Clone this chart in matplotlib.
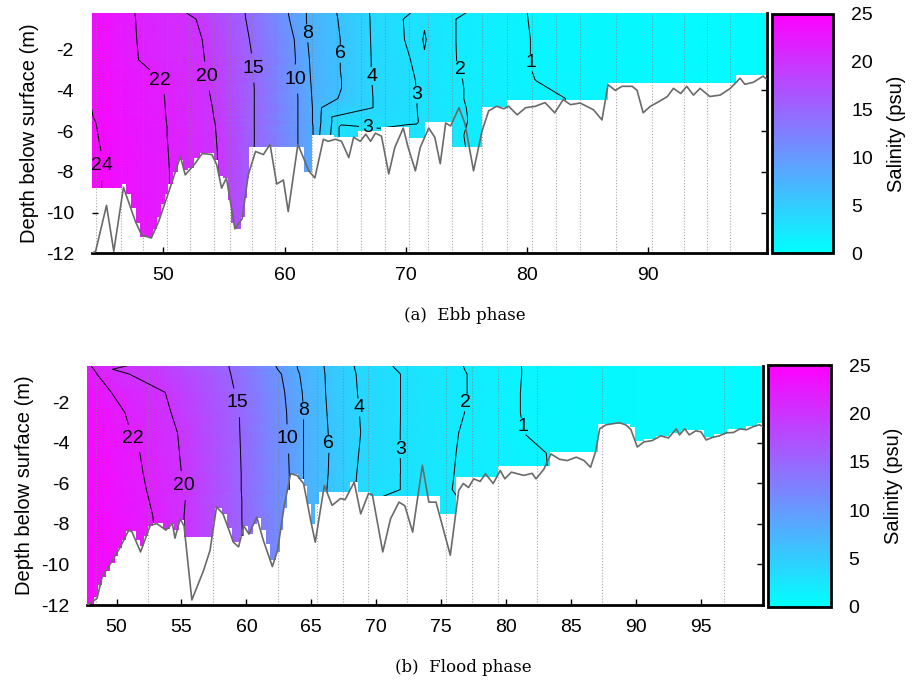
import numpy as np
import matplotlib
matplotlib.use("Agg")
import matplotlib.pyplot as plt
import matplotlib.tri as mtri
from matplotlib.colors import Normalize
from matplotlib.patches import Polygon

plt.rcParams['font.family'] = ['Liberation Sans', 'DejaVu Sans']
plt.rcParams['axes.unicode_minus'] = False

# ---------------- (a) ebb phase ----------------
ebb_levels = [1, 2, 3, 4, 6, 8, 10, 15, 20, 22, 24]
# salinity read along depth rows: x positions (distance) and salinity there
ebb_depths = [0.0, -0.5, -1.5, -2.5, -3.0, -3.5, -3.9, -4.4, -4.85, -5.3, -5.55,
              -5.8, -6.2, -7.0, -8.0, -10.0, -12.5]
ebb_knot_x = [
    [43, 43.9, 47.6, 51.4, 56.7, 60.25, 61.8, 64.25, 67.0, 70.8, 75.5, 80.0, 90, 101],
    [43, 43.85, 47.7, 52.7, 56.8, 60.4, 61.8, 64.4, 67.05, 69.8, 71.55, 74.15, 80.1, 90, 101],
    [43, 43.75, 47.8, 53.2, 57.1, 60.8, 61.9, 64.6, 67.1, 69.9, 71.3, 71.55, 71.8, 74.15, 80.3, 90, 101],
    [43, 43.65, 47.95, 53.4, 57.35, 60.9, 62.05, 64.6, 67.15, 70.4, 71.55, 74.2, 80.3, 90, 101],
    [43, 43.6, 48.9, 53.5, 57.4, 60.85, 62.1, 64.6, 67.15, 70.6, 74.5, 80.4, 90, 101],
    [43, 43.6, 49.7, 53.6, 57.45, 60.9, 62.15, 64.7, 67.2, 70.8, 74.7, 80.7, 90, 101],
    [43, 43.7, 50.0, 53.75, 57.5, 61.05, 62.2, 64.7, 67.25, 70.85, 74.8, 82.6, 90, 101],
    [43, 43.85, 50.1, 53.9, 57.5, 61.1, 62.25, 64.4, 67.3, 70.9, 74.8, 83.2, 90, 101],
    [43, 44.05, 50.15, 54.05, 57.5, 61.1, 62.3, 63.05, 67.3, 70.95, 75.0, 83.2, 90, 101],
    [43, 44.2, 50.2, 54.15, 57.5, 61.1, 62.3, 63.0, 63.9, 67.5, 71.0, 75.1, 83.2, 90, 101],
    [43, 44.4, 50.25, 54.25, 57.5, 61.1, 62.3, 63.0, 63.9, 64.6, 70.9, 71.05, 75.1, 83.2, 90, 101],
    [43, 44.5, 50.3, 54.3, 57.5, 61.1, 62.35, 62.95, 63.85, 64.5, 64.7, 70.9, 73.0, 75.0, 83.2, 90, 101],
    [43, 44.6, 50.3, 54.35, 57.5, 61.1, 62.35, 62.9, 63.8, 64.5, 68.0, 72.0, 74.8, 83.2, 90, 101],
    [43, 44.85, 50.4, 54.45, 57.5, 61.1, 62.4, 63.0, 64.0, 64.5, 70.0, 75.0, 83.2, 90, 101],
    [43, 44.9, 50.5, 54.5, 57.5, 61.1, 62.4, 63.0, 64.0, 64.5, 70.0, 75.0, 83.2, 90, 101],
    [43, 44.9, 50.5, 54.5, 57.5, 61.1, 62.4, 63.0, 64.0, 64.5, 70.0, 75.0, 83.2, 90, 101],
    [43, 44.9, 50.5, 54.5, 57.5, 61.1, 62.4, 63.0, 64.0, 64.5, 70.0, 75.0, 83.2, 90, 101],
]
ebb_knot_s = [
    [25, 24, 22, 20, 15, 10, 8, 6, 4, 3, 2, 1, 0.6, 0.3],
    [25, 24, 22, 20, 15, 10, 8, 6, 4, 3, 2.75, 2, 1, 0.6, 0.3],
    [25, 24, 22, 20, 15, 10, 8, 6, 4, 3, 2.85, 3.2, 2.85, 2, 1, 0.6, 0.3],
    [25, 24, 22, 20, 15, 10, 8, 6, 4, 3, 2.8, 2, 1, 0.6, 0.3],
    [25, 24, 22, 20, 15, 10, 8, 6, 4, 3, 2, 1, 0.6, 0.3],
    [25, 24, 22, 20, 15, 10, 8, 6, 4, 3, 2, 1, 0.6, 0.3],
    [25, 24, 22, 20, 15, 10, 8, 6, 4, 3, 2, 1, 0.6, 0.3],
    [25, 24, 22, 20, 15, 10, 8, 6, 4, 3, 2, 1, 0.6, 0.3],
    [25, 24, 22, 20, 15, 10, 8, 6, 4, 3, 2, 1, 0.6, 0.3],
    [25, 24, 22, 20, 15, 10, 8, 6, 4, 3.5, 3, 2, 1, 0.6, 0.3],
    [25, 24, 22, 20, 15, 10, 8, 6, 4, 3.15, 3.1, 3, 2, 1, 0.6, 0.3],
    [25, 24, 22, 20, 15, 10, 8, 6, 4, 3, 2.9, 2.85, 2.5, 2, 1, 0.6, 0.3],
    [25, 24, 22, 20, 15, 10, 8, 6, 4, 3, 2.7, 2.5, 2, 1, 0.6, 0.3],
    [25, 24, 22, 20, 15, 10, 8, 6, 4, 3, 2.6, 2, 1, 0.6, 0.3],
    [25, 24, 22, 20, 15, 10, 8, 6, 4, 3, 2.6, 2, 1, 0.6, 0.3],
    [25, 24, 22, 20, 15, 10, 8, 6, 4, 3, 2.6, 2, 1, 0.6, 0.3],
    [25, 24, 22, 20, 15, 10, 8, 6, 4, 3, 2.6, 2, 1, 0.6, 0.3],
]
# lower edge of the gridded salinity field (step starts, depth)
ebb_field_x = [44.1, 46.6, 46.9, 47.3, 47.7, 48.1, 49.1, 49.5, 49.8, 50.1, 50.4, 50.8,
               51.2, 51.6, 52.0, 52.5, 53.0, 54.2, 54.5, 54.9, 55.3, 55.6, 55.8, 56.4,
               56.7, 56.9, 57.05, 61.6, 62.3, 64.05, 66.1, 68.0, 70.24, 71.6, 73.8,
               76.3, 78.4, 86.7, 97.3]
ebb_field_z = [-8.8, -8.6, -9.1, -9.8, -10.5, -11.2, -10.8, -10.2, -9.6, -9.1, -8.6, -8.0,
               -7.4, -7.9, -7.8, -7.3, -7.05, -7.4, -8.2, -8.3, -9.4, -10.5, -10.8, -10.2,
               -9.3, -8.3, -6.76, -8.0, -6.2, -6.3, -6.0, -5.8, -6.35, -5.55, -6.8,
               -4.8, -4.45, -3.62, -3.23]
ebb_bed_x = [44.1, 44.4, 45.3, 45.9, 46.7, 47.7, 48.2, 49.0, 49.6, 50.4, 51.4, 51.8, 52.6,
             53.2, 54.0, 54.4, 54.8, 55.2, 55.9, 56.5, 57.0, 57.6, 58.25, 58.8, 59.35,
             59.9, 60.3, 61.1, 62.0, 62.5, 63.2, 63.6, 64.2, 64.7, 65.3, 65.7, 66.25,
             66.7, 67.1, 67.5, 68.0, 68.6, 69.1, 69.8, 70.2, 70.8, 71.2, 71.9, 72.4,
             72.85, 73.3, 73.7, 74.4, 74.9, 75.6, 76.3, 76.85, 77.5, 78.1, 78.5, 79.2,
             79.9, 80.7, 81.5, 82.3, 83.0, 83.6, 84.4, 85.5, 86.2, 86.7, 87.3, 87.85,
             88.7, 89.1, 89.6, 90.2, 90.9, 91.6, 92.1, 92.7, 93.2, 93.75, 94.3, 95.1,
             95.96, 96.8, 97.6, 98.0, 98.7, 99.5, 99.8]
ebb_bed_z = [-12.0, -11.9, -9.65, -11.9, -8.76, -10.46, -11.1, -11.25, -10.45, -9.05, -7.25,
             -8.15, -7.6, -7.1, -7.15, -7.65, -8.8, -8.3, -10.8, -10.3, -8.15, -7.0, -7.15,
             -6.65, -8.6, -8.4, -9.95, -6.65, -7.95, -8.3, -6.4, -6.5, -6.4, -6.5, -7.3,
             -6.3, -6.5, -6.15, -6.5, -6.1, -6.25, -8.1, -6.8, -5.85, -6.8, -7.95, -6.8,
             -5.85, -6.3, -7.6, -5.6, -5.75, -4.85, -5.65, -7.95, -6.0, -5.0, -4.78, -4.9,
             -4.78, -5.2, -4.85, -4.78, -4.6, -5.1, -4.45, -4.7, -4.62, -4.95, -5.45,
             -3.72, -4.0, -3.8, -3.8, -4.0, -5.1, -4.78, -4.55, -4.3, -3.9, -4.15, -3.8,
             -4.23, -3.9, -4.3, -4.23, -3.9, -3.4, -3.7, -3.6, -3.3, -3.45]
ebb_stations = [44.4, 46.5, 48.3, 50.3, 52.2, 54.2, 55.5, 57.3, 59.2, 62.3, 64.3, 66.3,
                68.3, 70.3, 71.8, 73.8, 76.3, 78.4, 80.4, 82.4, 84.4, 87.4, 90.3, 93.0,
                94.9, 96.8]
ebb_label_pos = [(44.9, -7.7), (49.7, -3.5), (53.55, -3.3), (57.4, -2.9), (60.8, -3.45),
                 (61.8, -1.2), (64.55, -2.2), (67.15, -3.3), (70.85, -4.2), (66.9, -5.6),
                 (74.45, -3.0), (80.3, -2.65)]

# ---------------- (b) flood phase ----------------
flood_levels = [1, 2, 3, 4, 6, 8, 10, 15, 20, 22]
flood_depths = [0.0, -0.36, -0.6, -1.5, -2.5, -3.5, -4.5, -5.5, -6.3, -6.8, -7.6, -9.0,
                -10.5, -12.5]
flood_knot_x = [
    [46, 47.8, 52.0, 58.6, 62.1, 63.85, 65.95, 68.25, 71.0, 76.6, 81.15, 90, 101],
    [46, 48.25, 49.7, 58.7, 62.4, 63.95, 66.0, 68.35, 71.5, 76.8, 81.2, 90, 101],
    [46, 48.5, 51.0, 58.8, 62.7, 64.1, 66.05, 68.45, 71.87, 77.0, 81.2, 90, 101],
    [46, 49.6, 53.75, 59.1, 62.95, 64.3, 66.1, 68.55, 71.87, 77.0, 81.1, 90, 101],
    [46, 50.65, 54.2, 59.45, 63.1, 64.4, 66.2, 68.7, 71.87, 76.8, 81.1, 90, 101],
    [46, 51.1, 54.7, 59.5, 63.15, 64.4, 66.3, 68.8, 71.85, 76.35, 81.35, 90, 101],
    [46, 51.8, 54.85, 59.55, 63.25, 64.4, 66.35, 68.65, 71.85, 76.15, 83.1, 90, 101],
    [46, 52.05, 55.0, 59.6, 63.3, 64.4, 66.3, 68.5, 71.87, 76.0, 83.2, 90, 101],
    [46, 52.3, 55.2, 59.6, 63.3, 64.4, 66.2, 68.4, 70.0, 71.87, 75.85, 83.2, 90, 101],
    [46, 52.5, 55.3, 59.65, 63.3, 64.4, 66.2, 68.3, 69.9, 72.0, 76.4, 83.2, 90, 101],
    [46, 52.8, 55.2, 59.65, 63.3, 64.4, 66.2, 68.3, 69.9, 72.0, 76.5, 83.2, 90, 101],
    [46, 53.0, 55.2, 59.7, 63.3, 64.4, 66.2, 68.3, 69.9, 72.0, 76.5, 83.2, 90, 101],
    [46, 53.0, 55.2, 59.7, 63.3, 64.4, 66.2, 68.3, 69.9, 72.0, 76.5, 83.2, 90, 101],
    [46, 53.0, 55.2, 59.7, 63.3, 64.4, 66.2, 68.3, 69.9, 72.0, 76.5, 83.2, 90, 101],
]
flood_knot_s = [
    [25, 22, 20, 15, 10, 8, 6, 4, 3, 2, 1, 0.6, 0.3],
    [25, 22, 20, 15, 10, 8, 6, 4, 3, 2, 1, 0.6, 0.3],
    [25, 22, 20, 15, 10, 8, 6, 4, 3, 2, 1, 0.6, 0.3],
    [25, 22, 20, 15, 10, 8, 6, 4, 3, 2, 1, 0.6, 0.3],
    [25, 22, 20, 15, 10, 8, 6, 4, 3, 2, 1, 0.6, 0.3],
    [25, 22, 20, 15, 10, 8, 6, 4, 3, 2, 1, 0.6, 0.3],
    [25, 22, 20, 15, 10, 8, 6, 4, 3, 2, 1, 0.6, 0.3],
    [25, 22, 20, 15, 10, 8, 6, 4, 3, 2, 1, 0.6, 0.3],
    [25, 22, 20, 15, 10, 8, 6, 4, 3.1, 3, 2, 1, 0.6, 0.3],
    [25, 22, 20, 15, 10, 8, 6, 4, 3, 2.7, 2, 1, 0.6, 0.3],
    [25, 22, 20, 15, 10, 8, 6, 4, 3, 2.7, 2, 1, 0.6, 0.3],
    [25, 22, 20, 15, 10, 8, 6, 4, 3, 2.7, 2, 1, 0.6, 0.3],
    [25, 22, 20, 15, 10, 8, 6, 4, 3, 2.7, 2, 1, 0.6, 0.3],
    [25, 22, 20, 15, 10, 8, 6, 4, 3, 2.7, 2, 1, 0.6, 0.3],
]
flood_field_x = [47.75, 48.3, 48.6, 48.85, 49.2, 49.5, 49.85, 50.15, 50.45, 50.75, 51.5,
                 51.8, 52.1, 52.4, 52.8, 53.6, 54.1, 54.45, 54.8, 55.2, 57.4, 57.6, 58.1,
                 58.5, 58.9, 59.5, 59.8, 60.1, 60.5, 60.8, 61.1, 61.5, 61.8, 62.3, 62.6,
                 62.85, 63.1, 63.35, 64.0, 64.4, 64.7, 65.0, 65.3, 65.6, 68.0, 68.6, 69.5,
                 74.9, 76.1, 79.4, 83.4, 87.1, 89.5, 89.9, 90.6, 91.5, 92.5, 93.5, 95.2,
                 96.0, 97.0, 98.5, 99.3]
flood_field_z = [-12.0, -11.6, -11.0, -10.6, -10.3, -9.95, -9.6, -9.2, -8.8, -8.35, -8.8,
                 -9.1, -8.6, -8.1, -7.95, -8.25, -8.0, -8.3, -7.8, -8.64, -7.9, -7.2, -7.5,
                 -8.2, -8.9, -8.6, -8.1, -8.5, -8.0, -7.7, -8.3, -9.0, -9.8, -9.4, -8.3,
                 -7.2, -6.3, -5.55, -5.8, -6.1, -7.0, -8.0, -7.0, -6.4, -5.95, -6.4, -6.6,
                 -7.5, -5.7, -5.15, -4.45, -3.06, -3.2, -3.9, -3.8, -3.65, -3.5, -3.35, -3.7,
                 -3.55, -3.3, -3.15, -3.0]
flood_bed_x = [47.75, 48.0, 48.5, 48.9, 49.54, 50.3, 50.95, 51.2, 51.85, 52.6, 53.1, 53.8,
               54.3, 54.5, 54.9, 55.2, 55.8, 56.7, 57.2, 57.7, 58.2, 59.0, 59.4, 59.8,
               60.2, 60.8, 61.3, 62.0, 62.4, 62.9, 63.4, 63.9, 64.4, 64.95, 65.3, 66.0,
               66.6, 67.25, 67.6, 68.3, 68.8, 69.4, 69.7, 70.5, 71.1, 71.75, 72.2, 72.8,
               73.55, 74.05, 74.6, 75.7, 76.35, 76.7, 77.1, 77.5, 78.0, 78.4, 79.0, 79.55,
               79.9, 80.4, 81.35, 82.0, 82.3, 82.9, 83.45, 84.1, 84.7, 85.4, 86.0, 86.5,
               86.9, 87.2, 87.7, 88.7, 89.2, 89.6, 90.1, 90.6, 91.25, 91.9, 92.5, 93.1,
               93.35, 93.75, 94.1, 94.6, 95.0, 95.4, 95.9, 96.4, 96.95, 97.5, 98.0, 98.5,
               99.0, 99.5, 99.8]
flood_bed_z = [-12.0, -11.9, -11.67, -10.6, -9.95, -9.13, -8.3, -8.4, -9.38, -8.06, -7.98,
               -8.3, -7.98, -8.7, -7.74, -8.1, -11.75, -10.3, -9.3, -7.16, -7.5, -8.9, -9.13,
               -8.1, -8.5, -7.66, -8.8, -10.1, -9.3, -7.16, -5.52, -5.6, -6.0, -7.82, -8.9,
               -6.1, -7.08, -6.74, -6.8, -5.93, -7.5, -6.5, -6.55, -9.38, -7.74, -6.92, -7.1,
               -8.4, -5.1, -6.92, -6.92, -9.54, -6.34, -6.0, -6.2, -5.77, -5.9, -5.52, -6.0,
               -5.36, -5.77, -5.44, -5.6, -5.5, -5.77, -5.3, -4.54, -4.8, -4.87, -4.7, -4.87,
               -5.2, -4.4, -3.3, -3.1, -3.0, -3.1, -3.33, -4.2, -3.95, -3.88, -3.65, -3.75,
               -3.3, -3.6, -3.3, -3.6, -3.4, -3.45, -3.85, -3.72, -3.65, -3.5, -3.48, -3.3,
               -3.35, -3.2, -3.1, -3.2]
flood_stations = [48.4, 52.4, 57.4, 62.4, 65.4, 67.4, 69.4, 72.4, 75.4, 77.4, 79.4, 82.4,
                  87.4, 96.8]
flood_label_pos = [(51.2, -3.8), (55.2, -6.1), (59.4, -2.0), (63.2, -3.8), (64.4, -2.4),
                   (66.3, -4.05), (68.5, -2.25), (71.75, -4.3), (76.9, -2.0), (81.25, -3.2)]

TOP = -0.2
norm = Normalize(0, 25)


def field_outline(xb, zb, x_end, top=0.5):
    verts = [(xb[0], top)]
    ends = list(xb[1:]) + [x_end]
    for x0, x1, z in zip(xb, ends, zb):
        verts += [(x0, z), (x1, z)]
    verts.append((x_end, top))
    return verts


def draw_panel(ax, cax, levels, depths, knot_x, knot_s, field_x, field_z, bed_x, bed_z,
               stations, label_pos, xlim, xticks):
    x = np.concatenate([np.asarray(k, float) for k in knot_x])
    z = np.concatenate([np.full(len(k), d) for d, k in zip(depths, knot_x)])
    s = np.concatenate([np.asarray(k, float) for k in knot_s])
    # triangulate in a stretched frame so rows connect to their neighbours
    tris = mtri.Triangulation(x / 4.0, z).triangles
    tri = mtri.Triangulation(x, z, triangles=tris)

    clip = Polygon(field_outline(field_x, field_z, xlim[1] + 1), closed=True,
                   transform=ax.transData, facecolor='none', edgecolor='none')

    pc = ax.tripcolor(tri, s, shading='gouraud', cmap='cool', norm=norm, zorder=1)
    pc.set_clip_path(clip)

    ax.vlines(stations, -12, TOP, colors='0.5', linestyles=(0, (1, 1.6)),
              linewidth=0.8, alpha=0.7, zorder=1.5)

    cs = ax.tricontour(tri, s, levels=[v + 0.001 for v in levels], colors='k',
                       linewidths=0.7, zorder=2)
    cs.set_clip_path(clip)
    texts = ax.clabel(cs, manual=label_pos, inline=True, inline_spacing=3,
                      fmt=lambda v: f"{v:.0f}", fontsize=14)
    for t in texts:
        t.set_rotation(0)

    ax.plot(bed_x, bed_z, color='#6a6a6a', lw=1.2, zorder=2.6)

    ax.set_xlim(*xlim)
    ax.set_ylim(-12, TOP)
    ax.set_xticks(xticks)
    ax.set_yticks([-2, -4, -6, -8, -10, -12])
    ax.set_axisbelow(True)
    for side in ('left', 'top'):
        ax.spines[side].set_visible(False)
    for side in ('bottom', 'right'):
        ax.spines[side].set_linewidth(2)
    ax.tick_params(axis='x', direction='in', length=4, width=1, labelsize=14, pad=10)
    ax.tick_params(axis='y', direction='in', length=4, width=1, labelsize=14, pad=13,
                   left=True, right=True)
    ax.set_ylabel('Depth below surface (m)', fontsize=14.5, labelpad=5)

    sm = plt.cm.ScalarMappable(norm=norm, cmap='cool')
    cb = plt.colorbar(sm, cax=cax, ticks=range(0, 26, 5))
    cb.outline.set_linewidth(2)
    cax.tick_params(length=0, labelsize=14, pad=13)
    cb.set_label('Salinity (psu)', fontsize=14.5, labelpad=10)


fig = plt.figure(figsize=(9.17, 6.82), dpi=100)
ax_a = fig.add_axes([0.1003, 0.6286, 0.7358, 0.3523])
cax_a = fig.add_axes([0.8416, 0.6286, 0.0672, 0.3509])
ax_b = fig.add_axes([0.0952, 0.1129, 0.7372, 0.3504])
cax_b = fig.add_axes([0.8378, 0.1104, 0.0680, 0.3544])

draw_panel(ax_a, cax_a, ebb_levels, ebb_depths, ebb_knot_x, ebb_knot_s, ebb_field_x,
           ebb_field_z, ebb_bed_x, ebb_bed_z, ebb_stations, ebb_label_pos, (44.1, 99.8),
           [50, 60, 70, 80, 90])
draw_panel(ax_b, cax_b, flood_levels, flood_depths, flood_knot_x, flood_knot_s,
           flood_field_x, flood_field_z, flood_bed_x, flood_bed_z, flood_stations,
           flood_label_pos, (47.75, 99.8), [50, 55, 60, 65, 70, 75, 80, 85, 90, 95])

fig.text(465 / 917, 1 - 315 / 682, '(a)  Ebb phase', ha='center', va='center',
         family='DejaVu Serif', fontsize=12)
fig.text(463 / 917, 1 - 668 / 682, '(b)  Flood phase', ha='center', va='center',
         family='DejaVu Serif', fontsize=12)

fig.savefig('out.png', dpi=100)
